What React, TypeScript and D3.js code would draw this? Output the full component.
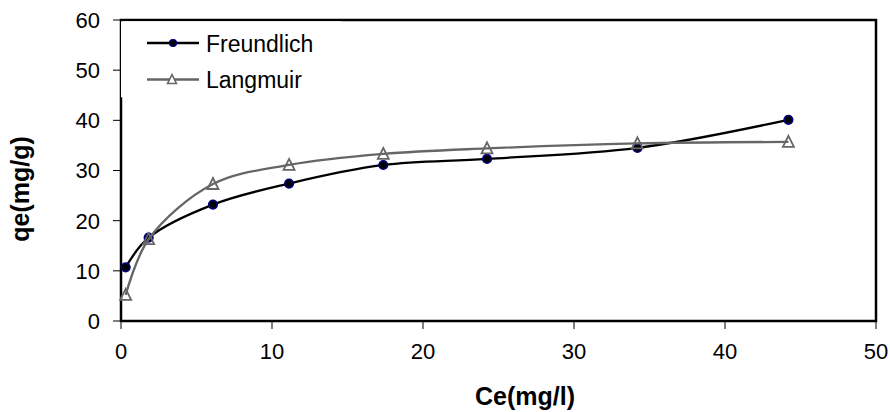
import React from "react";
import * as d3 from "d3";

const ceFreundlich = [0.31, 1.83, 6.09, 11.13, 17.37, 24.24, 34.2, 44.2];
const qeFreundlich = [10.7, 16.6, 23.2, 27.4, 31.1, 32.3, 34.5, 40.1];
const ceLangmuir = [0.31, 1.83, 6.09, 11.13, 17.37, 24.24, 34.2, 44.2];
const qeLangmuir = [5.2, 16.3, 27.3, 31.1, 33.3, 34.4, 35.4, 35.7];
const xTicks = [0, 10, 20, 30, 40, 50];
const yTicks = [0, 10, 20, 30, 40, 50, 60];
const seriesNames = ["Freundlich", "Langmuir"];

const W = 890;
const H = 412;
const FONT = "'Liberation Sans', Arial, Helvetica, sans-serif";

export default function App() {
  const x = d3.scaleLinear().domain([0, 50]).range([121, 876]);
  const y = d3.scaleLinear().domain([0, 60]).range([321, 20]);
  const line = d3
    .line<[number, number]>()
    .x((d) => x(d[0]))
    .y((d) => y(d[1]))
    .curve(d3.curveCatmullRom.alpha(0.5));

  const fPts: [number, number][] = ceFreundlich.map((c, i) => [c, qeFreundlich[i]]);
  const lPts: [number, number][] = ceLangmuir.map((c, i) => [c, qeLangmuir[i]]);

  const tri = (cx: number, cy: number, s: number) =>
    `M${cx},${cy - s * 0.55} L${cx + s / 2},${cy + s * 0.45} L${cx - s / 2},${cy + s * 0.45} Z`;

  const grey = "#666666";

  return (
    <svg
      width={W}
      height={H}
      style={{ position: "absolute", left: 0, top: 0, background: "#fff" }}
      fontFamily={FONT}
    >
      <rect x={0} y={0} width={W} height={H} fill="#fff" />
      {/* ticks */}
      {yTicks.map((t) => (
        <g key={"y" + t}>
          <line x1={113} x2={121} y1={y(t)} y2={y(t)} stroke="#000" strokeWidth={1} />
          <text x={100} y={y(t)} dy="0.36em" textAnchor="end" fontSize={22} fill="#000">
            {t}
          </text>
        </g>
      ))}
      {xTicks.map((t) => (
        <g key={"x" + t}>
          <line x1={x(t)} x2={x(t)} y1={321} y2={329} stroke="#000" strokeWidth={1} />
          <text x={x(t)} y={358.5} textAnchor="middle" fontSize={22} fill="#000">
            {t}
          </text>
        </g>
      ))}
      {/* frame */}
      <rect
        x={x(0)}
        y={y(60)}
        width={x(50) - x(0)}
        height={y(0) - y(60)}
        fill="none"
        stroke="#000"
        strokeWidth={2.5}
      />
      {/* legend background covering part of the axis */}
      <rect x={121} y={21.3} width={220} height={76} fill="#fff" />
      {/* series */}
      <path d={line(fPts) || ""} fill="none" stroke="#000" strokeWidth={2.3} />
      {fPts.map((p, i) => (
        <circle key={"f" + i} cx={x(p[0])} cy={y(p[1])} r={4.3} fill="#000" stroke="#000080" strokeWidth={1.6} />
      ))}
      <path d={line(lPts) || ""} fill="none" stroke={grey} strokeWidth={2.3} />
      {lPts.map((p, i) => (
        <path key={"l" + i} d={tri(x(p[0]), y(p[1]), 11)} fill="none" stroke={grey} strokeWidth={1.8} />
      ))}
      {/* legend */}
      <line x1={147} x2={199} y1={43} y2={43} stroke="#000" strokeWidth={2.3} />
      <circle cx={173} cy={43} r={3.4} fill="#000" stroke="#000080" strokeWidth={1.4} />
      <text x={206} y={51.5} fontSize={23} fill="#000">
        {seriesNames[0]}
      </text>
      <line x1={147} x2={199} y1={79.5} y2={79.5} stroke={grey} strokeWidth={2.3} />
      <path d={tri(172, 79.5, 9)} fill="#fff" stroke={grey} strokeWidth={1.5} />
      <text x={206} y={87.5} fontSize={23} fill="#000">
        {seriesNames[1]}
      </text>
      {/* axis titles */}
      <text x={525} y={405} textAnchor="middle" fontSize={25} fontWeight="bold" fill="#000">
        Ce(mg/l)
      </text>
      <text
        transform={`translate(29,189) rotate(-90)`}
        textAnchor="middle"
        fontSize={25}
        fontWeight="bold"
        fill="#000"
      >
        qe(mg/g)
      </text>
    </svg>
  );
}
